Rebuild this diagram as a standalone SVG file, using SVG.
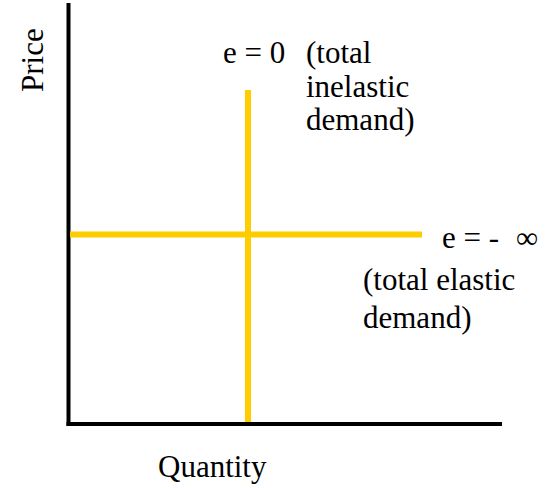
<svg xmlns="http://www.w3.org/2000/svg" width="555" height="488" viewBox="0 0 555 488">
<style>
text{font-family:"Liberation Serif","Times New Roman",serif;font-size:31px;fill:#000}
.axis{stroke:#000;stroke-width:4;fill:none}
.curve{stroke:#FFCC00;stroke-width:6;fill:none}
</style>
<rect width="555" height="488" fill="#fff"/>
<g id="axes">
<line class="axis" x1="68.5" y1="3" x2="68.5" y2="426"/>
<line class="axis" x1="66.5" y1="424" x2="502" y2="424"/>
</g>
<g id="connectors">
<line id="inelastic-demand" class="curve" x1="248" y1="90" x2="248" y2="422"/>
<line id="elastic-demand" class="curve" x1="70" y1="234.5" x2="422" y2="234.5"/>
</g>
<g id="label-price"><text transform="translate(43,92) rotate(-90)">Price</text></g>
<g id="label-quantity"><text x="158" y="477">Quantity</text></g>
<g id="label-e0">
<text x="223" y="63">e = 0</text>
<text x="306" y="63">(total</text>
<text x="306" y="97">inelastic</text>
<text x="306" y="130">demand)</text>
</g>
<g id="label-einf">
<text x="442" y="248">e = - <tspan x="516">∞</tspan></text>
<text x="363" y="290">(total elastic</text>
<text x="363" y="328">demand)</text>
</g>
</svg>
